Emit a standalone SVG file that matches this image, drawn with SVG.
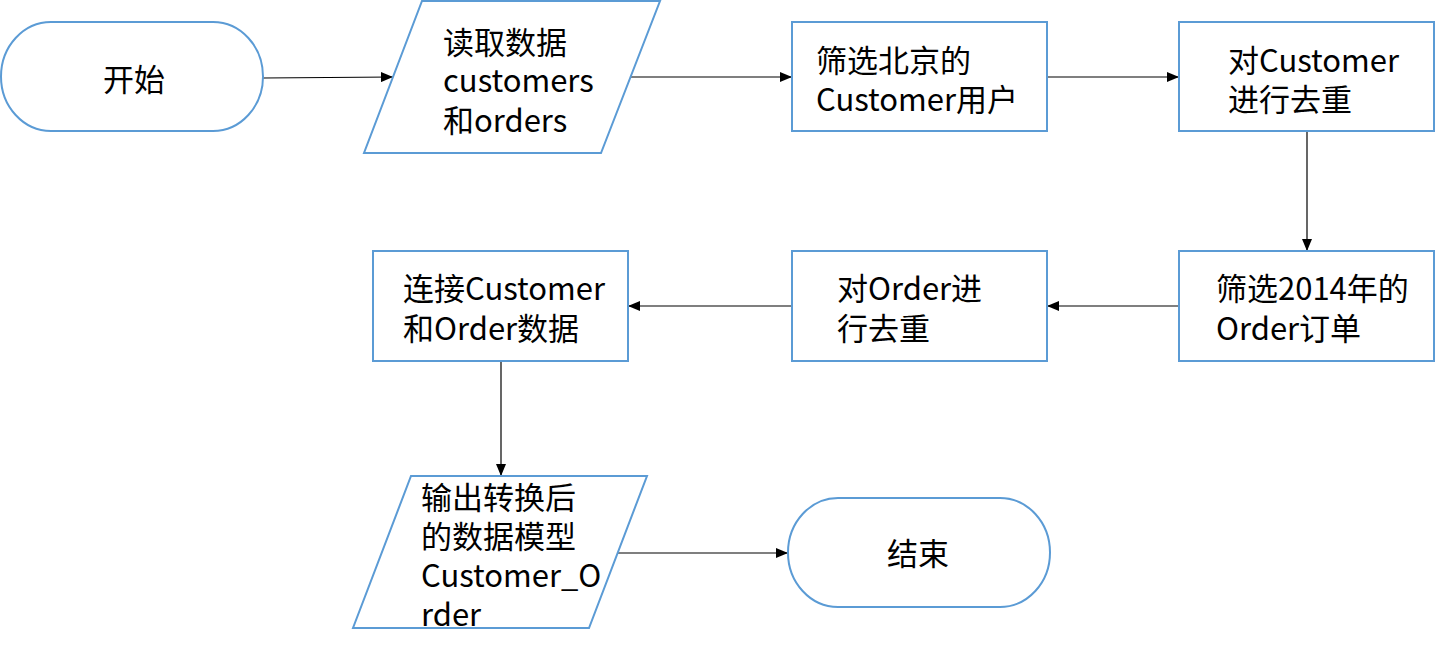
<svg xmlns="http://www.w3.org/2000/svg" width="1436" height="655" viewBox="0 0 1436 655">
<style>
.s{fill:#fff;stroke:#5B9BD5;stroke-width:2}
.t{font-family:"Noto Sans CJK SC","Noto Sans",sans-serif;font-size:31px;fill:#000}
.c{stroke:#000;stroke-width:1.2;fill:none;marker-end:url(#a)}
</style>
<defs>
<marker id="a" markerWidth="12" markerHeight="10" refX="12" refY="5" orient="auto" markerUnits="userSpaceOnUse">
<path d="M0,0 L12,5 L0,10 Z" fill="#000"/>
</marker>
</defs>
<rect width="1436" height="655" fill="#fff"/>
<g id="connectors">
<path class="c" d="M263,78 L393,77"/>
<path class="c" d="M631,77 L792,77"/>
<path class="c" d="M1047,77 L1179,77"/>
<path class="c" d="M1307,131 L1307,251"/>
<path class="c" d="M1179,306 L1047,306"/>
<path class="c" d="M792,306 L628,306"/>
<path class="c" d="M501,361 L501,476"/>
<path class="c" d="M618,553 L788,553"/>
</g>
<g id="start">
<rect class="s" x="1" y="22" width="262" height="109" rx="50" ry="54.5"/>
<text class="t" x="134" y="91" text-anchor="middle">开始</text>
</g>
<g id="read">
<polygon class="s" points="422,1 660,1 601,153 364,153"/>
<text class="t" x="443" y="54">读取数据</text>
<text class="t" x="443" y="92">customers</text>
<text class="t" x="443" y="132">和orders</text>
</g>
<g id="filterBJ">
<rect class="s" x="792" y="22" width="255" height="109"/>
<text class="t" x="816" y="72">筛选北京的</text>
<text class="t" x="816" y="111">Customer用户</text>
</g>
<g id="dedupCustomer">
<rect class="s" x="1179" y="22" width="255" height="109"/>
<text class="t" x="1228" y="72">对Customer</text>
<text class="t" x="1228" y="111">进行去重</text>
</g>
<g id="filter2014">
<rect class="s" x="1179" y="251" width="255" height="110"/>
<text class="t" x="1216" y="300">筛选2014年的</text>
<text class="t" x="1216" y="340">Order订单</text>
</g>
<g id="dedupOrder">
<rect class="s" x="792" y="251" width="255" height="110"/>
<text class="t" x="837" y="300">对Order进</text>
<text class="t" x="837" y="340">行去重</text>
</g>
<g id="join">
<rect class="s" x="373" y="251" width="255" height="110"/>
<text class="t" x="403" y="300">连接Customer</text>
<text class="t" x="403" y="340">和Order数据</text>
</g>
<g id="output">
<polygon class="s" points="411,476 647,476 589,628 353,628"/>
<text class="t" x="421" y="509">输出转换后</text>
<text class="t" x="421" y="548">的数据模型</text>
<text class="t" x="421" y="587">Customer_O</text>
<text class="t" x="421" y="626">rder</text>
</g>
<g id="end">
<rect class="s" x="788" y="498" width="262" height="109" rx="50" ry="54.5"/>
<text class="t" x="918" y="565" text-anchor="middle">结束</text>
</g>
</svg>
